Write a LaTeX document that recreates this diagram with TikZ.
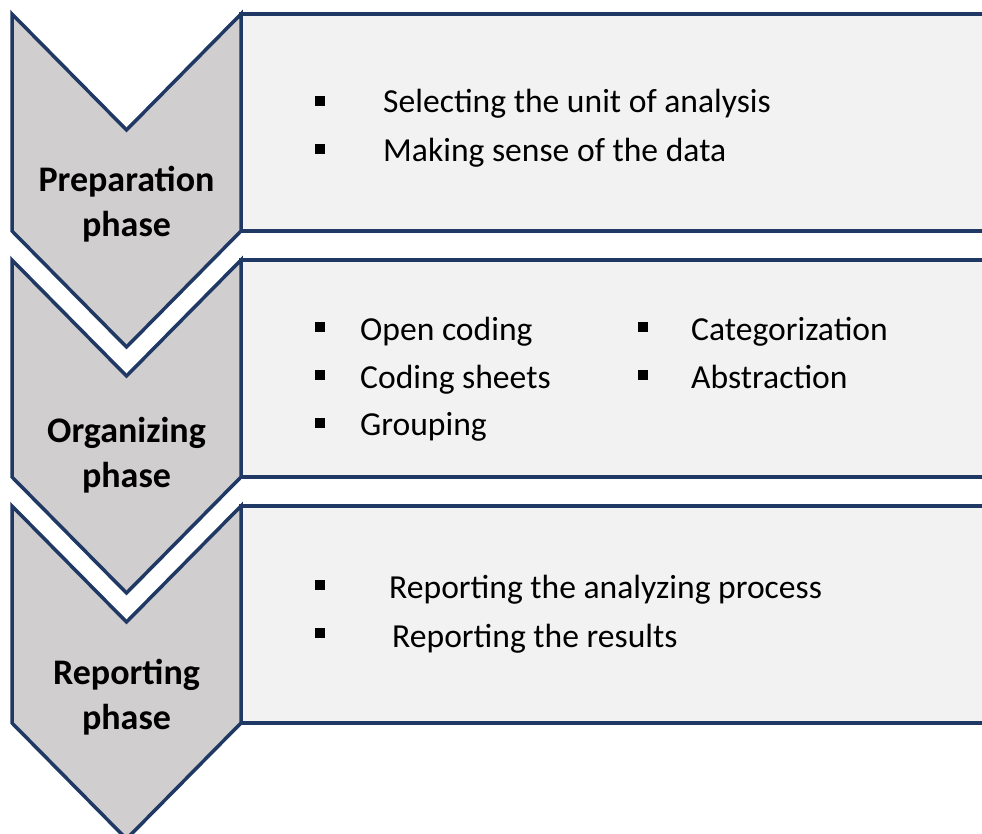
\documentclass[tikz,border=0pt]{standalone}
\usepackage{fontspec}
\setmainfont{Carlito}
\definecolor{navy}{HTML}{1F3864}
\definecolor{chevfill}{HTML}{D0CECE}
\definecolor{panelfill}{HTML}{F2F2F2}
\begin{document}
\begin{tikzpicture}[x=1pt,y=-1pt,
  outline/.style={draw=navy,line width=3.5pt,line join=miter},
  chevron/.style={outline,fill=chevfill},
  panelbox/.style={outline,fill=panelfill},
  % base anchor of a two-line label sits on the baseline of its last line
  phase/.style={font=\fontsize{36}{45}\selectfont\bfseries,align=center,inner sep=0pt,anchor=base},
  item/.style={font=\fontsize{33.6}{40}\selectfont,anchor=base west,inner sep=0pt},
  bulletsq/.style={rectangle,fill=black,minimum size=9.5pt,inner sep=0pt}]
\useasboundingbox (0,0) rectangle (982,834);
\clip (0,0) rectangle (982,834);

% panels behind the chevrons, open to the right
\foreach \t in {14,260,506} {
  \path[panelbox] (241,\t) rectangle (1000,\t+217);
}
% the three phase chevrons
\foreach \t in {14,260,506} {
  \path[chevron] (12,\t) -- (126.5,\t+116) -- (241,\t) -- (241,\t+217)
    -- (126.5,\t+333) -- (12,\t+217) -- cycle;
}

% phase labels
\node[phase] (prep) at (126.5,237) {Preparation\\phase};
\node[phase] (org)  at (126.5,487) {Organizing\\phase};
\node[phase] (rep)  at (126.5,729) {Reporting\\phase};

% preparation items
\node[bulletsq] (b11) at (320,101) {};
\node[bulletsq] (b12) at (320,149) {};
\node[item] (t11) at (383,113) {Selecting the unit of analysis};
\node[item] (t12) at (383,162) {Making sense of the data};

% organizing items
\node[bulletsq] (b21) at (320,327) {};
\node[bulletsq] (b22) at (320,375) {};
\node[bulletsq] (b23) at (320,423) {};
\node[item] (t21) at (360,340) {Open coding};
\node[item] (t22) at (360,388) {Coding sheets};
\node[item] (t23) at (360,435) {Grouping};
\node[bulletsq] (b24) at (643,327) {};
\node[bulletsq] (b25) at (643,375) {};
\node[item] (t24) at (691,340) {Categorization};
\node[item] (t25) at (691,388) {Abstraction};

% reporting items
\node[bulletsq] (b31) at (320,585) {};
\node[bulletsq] (b32) at (320,633) {};
\node[item] (t31) at (389,598) {Reporting the analyzing process};
\node[item] (t32) at (392,647) {Reporting the results};
\end{tikzpicture}
\end{document}
